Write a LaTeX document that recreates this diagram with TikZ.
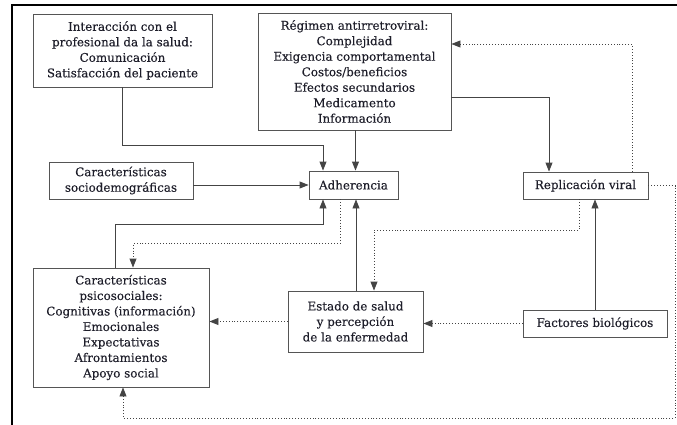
\documentclass[tikz,border=0pt]{standalone}
\usepackage{fontspec}
\setmainfont{DejaVu Serif}[UprightFeatures={FakeBold=0.25}]
\usepackage{tikz}
\usetikzlibrary{positioning, arrows.meta}
\definecolor{cajaGris}{HTML}{555555}
\definecolor{lineaGris}{HTML}{444444}
\definecolor{textoOscuro}{HTML}{1E1E2A}

\begin{document}
\begin{tikzpicture}[x=1pt, y=-1pt, font=\fontsize{11.9}{15.5}\selectfont,
  caja/.style={draw=cajaGris, line width=0.9pt, align=center, inner sep=0pt,
    text=textoOscuro},
  flecha/.style={draw=lineaGris, line width=0.9pt,
    -{Triangle[length=9pt, width=7pt]}},
  punteada/.style={flecha, dotted}]

\useasboundingbox (0,0) rectangle (677,425);
\draw[line width=1.6pt] (12,425) -- (12,5) -- (677,5);

\node[caja, minimum width=179, minimum height=73] (inter) at (122.5,50.5)
  {Interacción con el\\profesional da la salud:\\Comunicación\\Satisfacción del paciente};

\node[caja, minimum width=193, minimum height=117] (regimen) at (354.5,71.5)
  {Régimen antirretroviral:\\Complejidad\\Exigencia comportamental\\Costos/beneficios\\Efectos secundarios\\Medicamento\\Información};

\node[caja, minimum width=144, minimum height=37] (socio) at (121,180.5)
  {Características\\sociodemográficas};

\node[caja, minimum width=89, minimum height=28] (adher) at (353.5,185)
  {Adherencia};

\node[caja, minimum width=125, minimum height=27] (replic) at (585.5,185.5)
  {Replicación viral};

\node[caja, minimum width=176, minimum height=119] (psico) at (121,327.5)
  {Características\\psicosociales:\\Cognitivas (información)\\Emocionales\\Expectativas\\Afrontamientos\\Apoyo social};

\node[caja, minimum width=135, minimum height=61] (estado) at (355.5,321.5)
  {Estado de salud\\y percepción\\de la enfermedad};

\node[caja, minimum width=144, minimum height=27] (factores) at (595,323.5)
  {Factores biológicos};

\coordinate (abajo) at (675,418);

% conexiones continuas
\draw[flecha] (inter.south) -- ++(0,58) -| ([xshift=-30.5]adher.north);
\draw[flecha] ([xshift=2]adher.north |- regimen.south) -- ([xshift=2]adher.north);
\draw[flecha] (socio.east |- adher.west) -- (adher.west);
\draw[flecha] ([xshift=-6]psico.north) |- ([xshift=-30.5, yshift=-25]adher.south)
  -- ([xshift=-30.5]adher.south);
\draw[flecha] ([xshift=0.5]estado.north) -- ([xshift=0.5]estado.north |- adher.south);
\draw[flecha] ([yshift=-25.5]regimen.east) -| ([xshift=-36.5]replic.north);
\draw[flecha] (factores.north) -- (factores.north |- replic.south);

% conexiones punteadas
\draw[punteada] ([xshift=-13.5]adher.south) -- ++(0,44) -| ([xshift=12]psico.north);
\draw[punteada] (estado.west) -- (estado.west -| psico.east);
\draw[punteada] ([xshift=46.5]replic.north) |- ([yshift=27.5]regimen.east);
\draw[punteada] ([xshift=-6.5]replic.south) -- ++(0,31) -| ([xshift=18.5]estado.north);
\draw[punteada] (factores.west) -- (factores.west -| estado.east);
\draw[punteada] (replic.east) -| (abajo) -| ([xshift=2]psico.south);

\end{tikzpicture}
\end{document}
